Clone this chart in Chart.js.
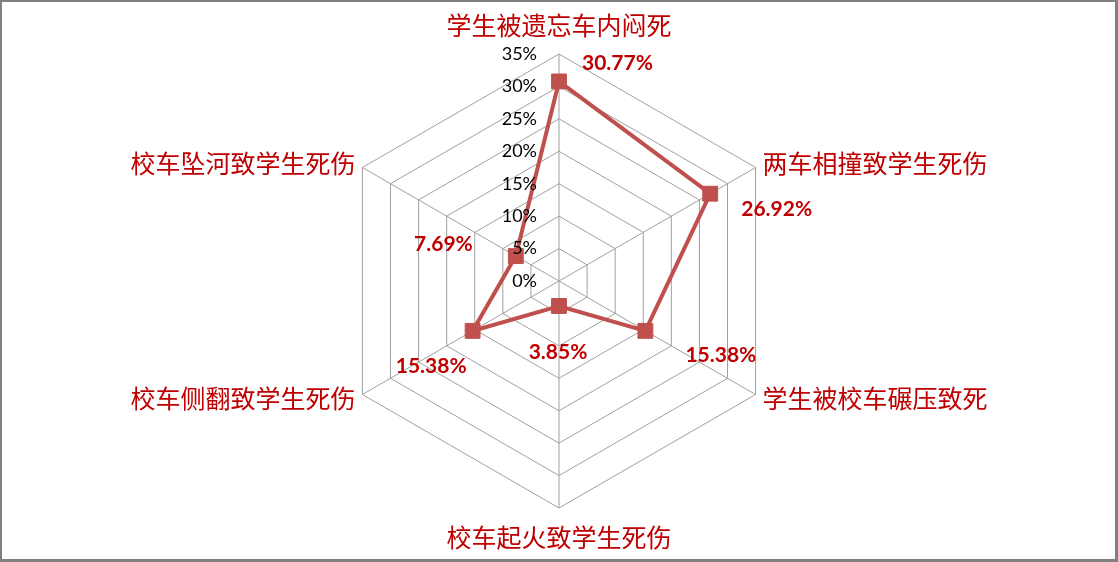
<!DOCTYPE html>
<html>
<head>
<meta charset="utf-8">
<title>校车事故类型雷达图</title>
<script src="https://cdn.jsdelivr.net/npm/chart.js@4.4.1/dist/chart.umd.min.js"></script>
<style>
  html, body { margin: 0; padding: 0; background: #fff; }
  #wrap { position: relative; width: 1118px; height: 562px; overflow: hidden; }
  #radar { position: absolute; left: 0; top: 0; }
  #frame {
    position: absolute; inset: 0; box-sizing: border-box; pointer-events: none;
    border-style: solid; border-color: #808080; border-width: 2px 3px 3px 2px;
  }
</style>
</head>
<body>
<div id="wrap">
  <canvas id="radar" width="1118" height="562"></canvas>
  <div id="frame"></div>
</div>
<script>
// data
const categories = [
  '学生被遗忘车内闷死',
  '两车相撞致学生死伤',
  '学生被校车碾压致死',
  '校车起火致学生死伤',
  '校车侧翻致学生死伤',
  '校车坠河致学生死伤'
];
const shares = [30.77, 26.92, 15.38, 3.85, 15.38, 7.69];
const axisMin = 0;
const axisMax = 35;
const tickStep = 5;

// label placement relative to each point (style only)
const labelOffsets = [
  { dx: 23, dy: -18, align: 'left' },
  { dx: 31, dy: 16, align: 'left' },
  { dx: 40, dy: 24, align: 'left' },
  { dx: -1, dy: 46, align: 'center' },
  { dx: -6, dy: 35, align: 'right' },
  { dx: -43, dy: -12, align: 'right' }
];

const RED = '#C0504D';
const LABEL_RED = '#C00000';
const CJK = '"Noto Sans CJK SC", "Noto Sans", sans-serif';
const LATIN = 'Lato, "Open Sans", sans-serif';

/* draws tick labels, category labels and value labels */
const radarText = {
  id: 'radarText',
  afterDatasetsDraw(chart) {
    const { ctx } = chart;
    const scale = chart.scales.r;
    const meta = chart.getDatasetMeta(0);
    ctx.save();

    // value labels
    ctx.fillStyle = LABEL_RED;
    ctx.font = 'bold 21px ' + LATIN;
    ctx.textBaseline = 'middle';
    meta.data.forEach((pt, i) => {
      const o = labelOffsets[i];
      ctx.textAlign = o.align;
      ctx.fillText(shares[i].toFixed(2) + '%', pt.x + o.dx, pt.y + o.dy);
    });

    // tick labels, right aligned left of the top axis
    ctx.fillStyle = '#000';
    ctx.font = '18px ' + LATIN;
    ctx.textAlign = 'right';
    scale.ticks.forEach(t => {
      const d = scale.getDistanceFromCenterForValue(t.value);
      ctx.fillText(t.value + '%', scale.xCenter - 22, scale.yCenter - d);
    });

    // category labels
    ctx.fillStyle = LABEL_RED;
    ctx.font = '25px ' + CJK;
    const R = scale.drawingArea;
    categories.forEach((c, i) => {
      const probe = scale.getPointPosition(i, R);
      const dx = probe.x - scale.xCenter;
      let pos;
      if (Math.abs(dx) < 1) {
        pos = scale.getPointPosition(i, R + 29);
        ctx.textAlign = 'center';
      } else {
        pos = scale.getPointPosition(i, R + 8);
        ctx.textAlign = dx > 0 ? 'left' : 'right';
      }
      ctx.fillText(c, pos.x, pos.y);
    });

    ctx.restore();
  }
};

new Chart(document.getElementById('radar'), {
  type: 'radar',
  data: {
    labels: categories,
    datasets: [{
      label: '比例',
      data: shares,
      borderColor: RED,
      backgroundColor: RED,
      borderWidth: 4,
      fill: false,
      pointStyle: 'rect',
      pointRadius: 10.5,
      pointHoverRadius: 10.5,
      pointBackgroundColor: RED,
      pointBorderColor: RED,
      pointBorderWidth: 1
    }]
  },
  options: {
    responsive: false,
    animation: false,
    devicePixelRatio: 1,
    layout: { padding: { top: 54, bottom: 54, left: 0, right: 0 } },
    plugins: {
      legend: { display: false },
      tooltip: { enabled: false }
    },
    elements: { line: { tension: 0 } },
    scales: {
      r: {
        min: axisMin,
        max: axisMax,
        ticks: { stepSize: tickStep, display: false },
        grid: { color: '#A0A0A0', lineWidth: 1 },
        angleLines: { color: '#A0A0A0', lineWidth: 1 },
        pointLabels: { display: false }
      }
    }
  },
  plugins: [radarText]
});
</script>
</body>
</html>
